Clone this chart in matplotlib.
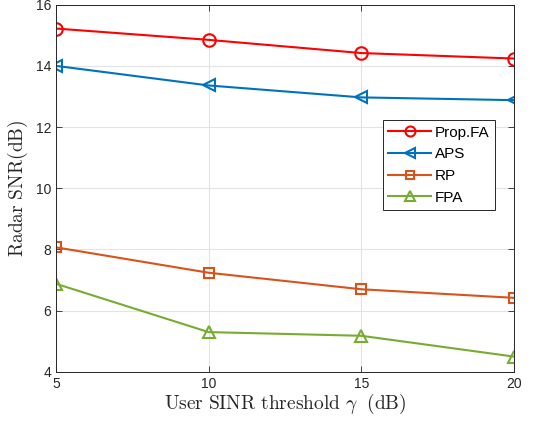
import numpy as np
import matplotlib
matplotlib.use('Agg')
import matplotlib.pyplot as plt

plt.rcParams['mathtext.fontset'] = 'cm'
plt.rcParams['font.family'] = 'Liberation Sans'

# Datos
gamma = [5, 10, 15, 20]
prop_fa = [15.22, 14.85, 14.42, 14.24]
aps = [14.0, 13.36, 12.97, 12.88]
rp = [8.07, 7.24, 6.70, 6.42]
fpa = [6.88, 5.30, 5.18, 4.50]

series = [
    ('Prop.FA', prop_fa, (1.0, 0.0, 0.0), 'o'),
    ('APS', aps, (0.0, 0.447, 0.741), '<'),
    ('RP', rp, (0.85, 0.325, 0.098), 's'),
    ('FPA', fpa, (0.466, 0.674, 0.188), '^'),
]

fig = plt.figure(figsize=(5.33, 4.25), dpi=100)
ax = fig.add_axes([0.105, 0.125, 0.859, 0.864])

for name, vals, color, mk in series:
    ms = 7 if mk == 's' else 9
    ax.plot(gamma, vals, color=color, marker=mk, markersize=ms, markerfacecolor='none',
            markeredgewidth=1.5, linewidth=1.5, label=name)

ax.set_xlim(5, 20)
ax.set_ylim(4, 16)
ax.set_xticks([5, 10, 15, 20])
ax.set_yticks([4, 6, 8, 10, 12, 14, 16])
ax.grid(True, color='#e3e3e3', linewidth=0.8)
ax.set_axisbelow(True)
ax.tick_params(direction='in', top=True, right=True, labelsize=10, colors='#262626',
               length=4, width=0.6)
for sp in ax.spines.values():
    sp.set_color('#262626')
    sp.set_linewidth(0.7)

ax.set_xlabel(r'$\mathrm{User\ SINR\ threshold}\ \gamma\ \ \mathrm{(dB)}$', fontsize=14, color='#262626',
              labelpad=1)
ax.set_ylabel(r'$\mathrm{Radar\ SNR(dB)}$', fontsize=14, color='#262626', labelpad=4)

leg = ax.legend(loc='upper left', bbox_to_anchor=(0.714, 0.685), fontsize=11, fancybox=False,
                framealpha=1, edgecolor='#262626', borderpad=0.35, labelspacing=0.5,
                handlelength=2.8, handletextpad=0.25, borderaxespad=0, markerscale=0.8)
leg.get_frame().set_linewidth(0.7)

plt.savefig('out.png', dpi=100)
